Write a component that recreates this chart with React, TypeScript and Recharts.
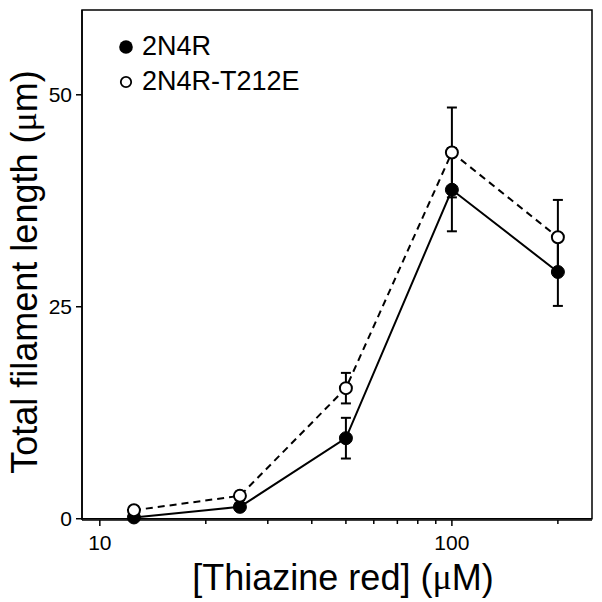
import React from "react";
import {
  ComposedChart,
  Line,
  XAxis,
  YAxis,
  ErrorBar,
  ReferenceArea,
} from "recharts";

// thiazine red concentration (uM)
const concentrations = [12.5, 25, 50, 100, 200];
// 2N4R, filled circles
const wildType = [0.15, 1.4, 9.5, 38.8, 29.1];
const wildTypeErr = [0.3, 0.4, 2.4, 4.9, 4.0];
// 2N4R-T212E, open circles
const mutant = [1.0, 2.7, 15.4, 43.2, 33.2];
const mutantErr = [0.4, 0.5, 1.8, 5.3, 4.4];

const xTicks = [10, 20, 30, 40, 50, 60, 70, 80, 90, 100, 200];
const xMajor = [10, 100];
const yTicks = [0, 25, 50];
const seriesNames = ["2N4R", "2N4R-T212E"];

const data = concentrations.map((c, i) => ({
  conc: c,
  wt: wildType[i],
  wtErr: wildTypeErr[i],
  mut: mutant[i],
  mutErr: mutantErr[i],
}));

const FONT = "Arial, 'Liberation Sans', Helvetica, sans-serif";

const XTick = ({ x, y, payload }: any) => {
  const major = xMajor.includes(payload.value);
  return (
    <g>
      <line x1={x} x2={x} y1={y} y2={y + (major ? 6 : 4)} stroke="#000" strokeWidth={1.5} />
      {major && (
        <text
          x={x}
          y={y + 22}
          textAnchor="middle"
          dominantBaseline="central"
          fontSize={21}
          fontFamily={FONT}
          fill="#000">
          {payload.value}
        </text>
      )}
    </g>
  );
};

const XLabel = ({ viewBox }: any) => (
  <text
    x={viewBox.x + viewBox.width / 2 + 6}
    y={viewBox.y + 57}
    textAnchor="middle"
    dominantBaseline="central"
    fontSize={36}
    fontFamily={FONT}
    fill="#000">
    [Thiazine red] (<tspan fontFamily="'Liberation Serif', serif">μ</tspan>M)
  </text>
);

const YLabel = ({ viewBox }: any) => {
  const cx = viewBox.x + 24;
  const cy = viewBox.y + viewBox.height / 2 + 7;
  return (
    <text
      x={cx}
      y={cy}
      transform={`rotate(-90, ${cx}, ${cy})`}
      textAnchor="middle"
      dominantBaseline="central"
      fontSize={36}
      fontFamily={FONT}
      fill="#000">
      Total filament length (<tspan fontFamily="'Liberation Serif', serif">μ</tspan>m)
    </text>
  );
};

const LegendBox = () => (
  <div
    style={{
      position: "absolute",
      left: 116,
      top: 29,
      fontFamily: FONT,
      fontSize: 27,
      color: "#000",
    }}>
    {seriesNames.map((name, i) => (
      <div key={name} style={{ display: "flex", alignItems: "center", height: 35 }}>
        <svg width={26} height={35}>
          {i === 0 ? (
            <circle cx={10} cy={18} r={6.8} fill="#000" />
          ) : (
            <circle cx={10} cy={18} r={5.2} fill="#fff" stroke="#000" strokeWidth={1.8} />
          )}
        </svg>
        <span style={{ lineHeight: "35px", whiteSpace: "nowrap" }}>{name}</span>
      </div>
    ))}
  </div>
);

export default function App() {
  return (
    <div style={{ position: "absolute", left: 0, top: 0, width: 602, height: 602, background: "#fff" }}>
      <ComposedChart
        width={602}
        height={602}
        data={data}
        margin={{ top: 10, right: 10, left: 0, bottom: 0 }}>
        <XAxis
          dataKey="conc"
          type="number"
          scale="log"
          domain={[8.9, 250]}
          ticks={xTicks}
          interval={0}
          allowDataOverflow
          height={82}
          tickSize={0}
          tickMargin={0}
          tickLine={false}
          tick={<XTick />}
          axisLine={{ stroke: "#000", strokeWidth: 1.5 }}
          label={<XLabel />}
        />
        <YAxis
          type="number"
          domain={[0, 60]}
          ticks={yTicks}
          interval={0}
          width={82}
          tickSize={6}
          tickMargin={4}
          tickLine={{ stroke: "#000", strokeWidth: 1.5 }}
          axisLine={{ stroke: "#000", strokeWidth: 1.5 }}
          tick={{ fill: "#000", fontSize: 21, fontFamily: FONT }}
          label={<YLabel />}
        />
        <ReferenceArea
          x1={8.9}
          x2={250}
          y1={0}
          y2={60}
          fill="none"
          stroke="#000"
          strokeWidth={1.5}
          ifOverflow="visible"
        />
        <Line
          dataKey="wt"
          stroke="#000"
          strokeWidth={2}
          dot={false}
          activeDot={false}
          isAnimationActive={false}>
          <ErrorBar dataKey="wtErr" width={5} stroke="#000" strokeWidth={2} direction="y" />
        </Line>
        <Line
          dataKey="mut"
          stroke="#000"
          strokeWidth={2}
          strokeDasharray="7 5"
          dot={false}
          activeDot={false}
          isAnimationActive={false}>
          <ErrorBar dataKey="mutErr" width={5} stroke="#000" strokeWidth={2} direction="y" />
        </Line>
        <Line
          dataKey="wt"
          stroke="none"
          dot={{ r: 6.5, fill: "#000", stroke: "#000", strokeWidth: 1 }}
          activeDot={false}
          isAnimationActive={false}
        />
        <Line
          dataKey="mut"
          stroke="none"
          dot={{ r: 6, fill: "#fff", stroke: "#000", strokeWidth: 2 }}
          activeDot={false}
          isAnimationActive={false}
        />
      </ComposedChart>
      <LegendBox />
    </div>
  );
}
